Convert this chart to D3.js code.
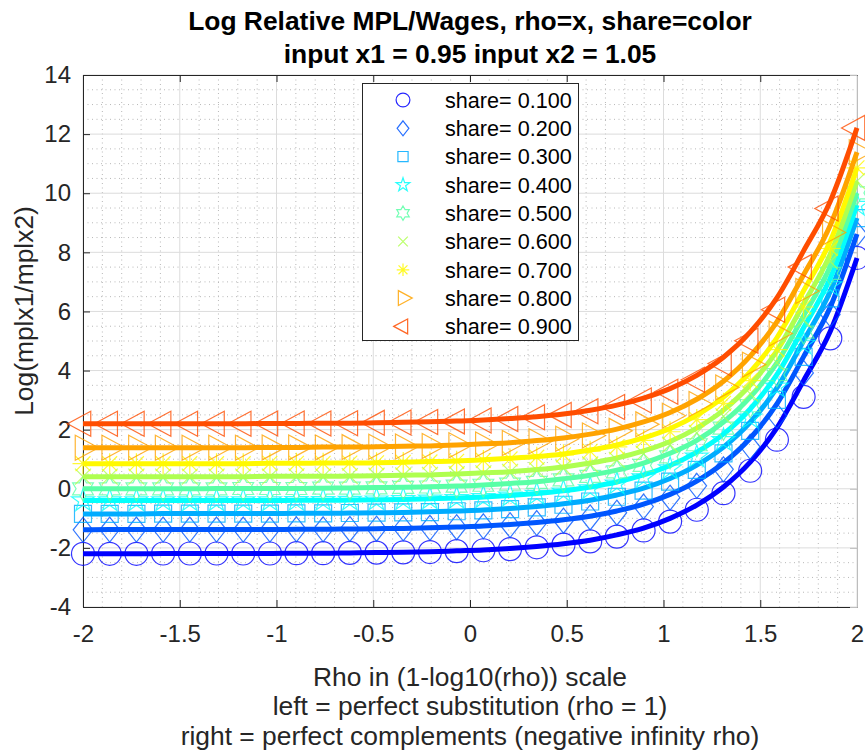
<!DOCTYPE html>
<html><head><meta charset="utf-8">
<script src="https://cdn.jsdelivr.net/npm/d3@7"></script>
<style>
body{margin:0;background:#fff}
svg{display:block}
text{font-family:"Liberation Sans",Arial,Helvetica,sans-serif}
</style>
</head><body>
<svg id="chart" width="865" height="751"></svg>
<script>
// ---------------- data ----------------
const xValues = [-2, -1.862, -1.724, -1.586, -1.448, -1.310, -1.172, -1.034, -0.897, -0.759,
  -0.621, -0.483, -0.345, -0.207, -0.069, 0.069, 0.207, 0.345, 0.483, 0.621,
  0.759, 0.897, 1.034, 1.172, 1.310, 1.448, 1.586, 1.724, 1.862, 2];

const shares = [0.1, 0.2, 0.3, 0.4, 0.5, 0.6, 0.7, 0.8, 0.9];
const shareLabels = ["share= 0.100","share= 0.200","share= 0.300","share= 0.400","share= 0.500",
  "share= 0.600","share= 0.700","share= 0.800","share= 0.900"];

// marker (point) values per share
const share010 = [-2.20,-2.20,-2.20,-2.19,-2.19,-2.19,-2.19,-2.19,-2.18,-2.18,-2.17,-2.16,-2.15,-2.14,-2.11,-2.08,-2.04,-1.98,-1.89,-1.78,-1.62,-1.41,-1.11,-0.71,-0.15,0.61,1.66,3.11,5.09,7.81];
const share020 = [-1.39,-1.38,-1.38,-1.38,-1.38,-1.38,-1.38,-1.38,-1.37,-1.37,-1.36,-1.35,-1.34,-1.32,-1.30,-1.27,-1.23,-1.16,-1.08,-0.97,-0.81,-0.60,-0.30,0.10,0.66,1.42,2.47,3.92,5.90,8.62];
const share030 = [-0.85,-0.85,-0.85,-0.84,-0.84,-0.84,-0.84,-0.84,-0.83,-0.83,-0.82,-0.81,-0.80,-0.79,-0.76,-0.73,-0.69,-0.63,-0.54,-0.43,-0.27,-0.06,0.24,0.64,1.20,1.96,3.01,4.46,6.44,9.16];
const share040 = [-0.40,-0.40,-0.40,-0.40,-0.40,-0.40,-0.40,-0.40,-0.39,-0.39,-0.38,-0.37,-0.36,-0.34,-0.32,-0.29,-0.24,-0.18,-0.10,0.01,0.17,0.38,0.68,1.08,1.64,2.40,3.45,4.90,6.88,9.60];
const share050 = [0.00,0.00,0.00,0.00,0.00,0.00,0.01,0.01,0.01,0.02,0.02,0.03,0.05,0.06,0.09,0.12,0.16,0.22,0.30,0.42,0.57,0.79,1.08,1.49,2.05,2.81,3.86,5.30,7.29,10.01];
const share060 = [0.41,0.41,0.41,0.41,0.41,0.41,0.41,0.41,0.42,0.42,0.43,0.44,0.45,0.47,0.49,0.52,0.57,0.63,0.71,0.82,0.98,1.19,1.49,1.89,2.45,3.22,4.27,5.71,7.69,10.41];
const share070 = [0.85,0.85,0.85,0.85,0.85,0.85,0.85,0.86,0.86,0.86,0.87,0.88,0.89,0.91,0.93,0.96,1.01,1.07,1.15,1.27,1.42,1.64,1.93,2.34,2.89,3.66,4.71,6.15,8.13,10.86];
const share080 = [1.39,1.39,1.39,1.39,1.39,1.39,1.39,1.40,1.40,1.40,1.41,1.42,1.43,1.45,1.47,1.50,1.55,1.61,1.69,1.80,1.96,2.18,2.47,2.87,3.43,4.20,5.25,6.69,8.67,11.39];
const share090 = [2.20,2.20,2.20,2.20,2.20,2.20,2.20,2.21,2.21,2.21,2.22,2.23,2.24,2.26,2.28,2.31,2.36,2.42,2.50,2.62,2.77,2.99,3.28,3.69,4.24,5.01,6.06,7.50,9.48,12.21];

// line values per share (the drawn curves sit slightly above/left of the markers on the steep part)
const line010 = [-2.20,-2.20,-2.20,-2.19,-2.19,-2.19,-2.19,-2.19,-2.18,-2.18,-2.17,-2.16,-2.15,-2.13,-2.10,-2.07,-2.02,-1.95,-1.86,-1.74,-1.56,-1.33,-1.00,-0.55,0.06,0.90,2.06,3.66,5.33,7.81];
const line020 = [-1.39,-1.38,-1.38,-1.38,-1.38,-1.38,-1.38,-1.38,-1.37,-1.37,-1.36,-1.35,-1.34,-1.32,-1.29,-1.26,-1.21,-1.14,-1.05,-0.93,-0.75,-0.52,-0.19,0.26,0.87,1.71,2.87,4.47,6.15,8.62];
const line030 = [-0.85,-0.85,-0.85,-0.84,-0.84,-0.84,-0.84,-0.84,-0.83,-0.83,-0.82,-0.81,-0.80,-0.78,-0.75,-0.72,-0.67,-0.60,-0.51,-0.39,-0.21,0.02,0.35,0.80,1.41,2.25,3.41,5.01,6.68,9.16];
const line040 = [-0.40,-0.40,-0.40,-0.40,-0.40,-0.40,-0.40,-0.40,-0.39,-0.39,-0.38,-0.37,-0.36,-0.34,-0.31,-0.28,-0.23,-0.16,-0.07,0.06,0.23,0.47,0.79,1.24,1.85,2.70,3.86,5.45,7.13,9.60];
const line050 = [0.00,0.00,0.00,0.00,0.00,0.01,0.01,0.01,0.01,0.02,0.03,0.04,0.05,0.07,0.09,0.13,0.18,0.24,0.34,0.46,0.63,0.87,1.20,1.64,2.26,3.10,4.26,5.85,7.53,10.01];
const line060 = [0.41,0.41,0.41,0.41,0.41,0.41,0.41,0.42,0.42,0.42,0.43,0.44,0.46,0.47,0.50,0.54,0.58,0.65,0.74,0.87,1.04,1.28,1.60,2.05,2.66,3.51,4.67,6.26,7.94,10.41];
const line070 = [0.85,0.85,0.85,0.85,0.85,0.85,0.85,0.86,0.86,0.87,0.87,0.88,0.90,0.92,0.94,0.98,1.03,1.09,1.18,1.31,1.48,1.72,2.04,2.49,3.10,3.95,5.11,6.70,8.38,10.86];
const line080 = [1.39,1.39,1.39,1.39,1.39,1.39,1.39,1.40,1.40,1.41,1.41,1.42,1.44,1.45,1.48,1.52,1.56,1.63,1.72,1.85,2.02,2.26,2.58,3.03,3.64,4.49,5.65,7.24,8.92,11.39];
const line090 = [2.20,2.20,2.20,2.20,2.20,2.20,2.20,2.21,2.21,2.22,2.22,2.23,2.25,2.27,2.29,2.33,2.38,2.44,2.53,2.66,2.83,3.07,3.39,3.84,4.45,5.30,6.46,8.05,9.73,12.21];

const seriesValues = [share010, share020, share030, share040, share050, share060, share070, share080, share090];
const lineValues = [line010, line020, line030, line040, line050, line060, line070, line080, line090];

const xTicks = [-2, -1.5, -1, -0.5, 0, 0.5, 1, 1.5, 2];
const xTickLabels = ["-2","-1.5","-1","-0.5","0","0.5","1","1.5","2"];
const yTicks = [-4, -2, 0, 2, 4, 6, 8, 10, 12, 14];
const yTickLabels = ["-4","-2","0","2","4","6","8","10","12","14"];

// ---------------- styles ----------------
const colors = ["#0000ff","#0056ff","#00acff","#03fffc","#59ffa6","#afff50","#fff900","#ffa300","#ff4d00"];
const markers = ["circle","diamond","square","pentagram","hexagram","x","asterisk","right","left"];

const L = 83, R = 857, T = 75, B = 607;
const svg = d3.select("#chart");

const x = d3.scaleLinear().domain([-2, 2]).range([L, R]);
const y = d3.scaleLinear().domain([-4, 14]).range([B, T]);

// grid: minor dotted
const gGrid = svg.append("g");
const xMinor = d3.range(-20, 21).map(d => d / 10).filter(d => Math.abs(d * 2 - Math.round(d * 2)) > 1e-6);
const yMinor = d3.range(-8, 29).map(d => d / 2).filter(d => Math.abs(d / 2 - Math.round(d / 2)) > 1e-6);
gGrid.selectAll(".xm").data(xMinor).join("line")
  .attr("x1", d => x(d)).attr("x2", d => x(d)).attr("y1", T).attr("y2", B)
  .attr("stroke", "#b8b8b8").attr("stroke-width", 1).attr("stroke-dasharray", "1 3.5");
gGrid.selectAll(".ym").data(yMinor).join("line")
  .attr("x1", L).attr("x2", R).attr("y1", d => y(d)).attr("y2", d => y(d))
  .attr("stroke", "#b8b8b8").attr("stroke-width", 1).attr("stroke-dasharray", "1 3.5");
// major grid
gGrid.selectAll(".xg").data(xTicks).join("line")
  .attr("x1", d => x(d)).attr("x2", d => x(d)).attr("y1", T).attr("y2", B)
  .attr("stroke", "#dcdcdc").attr("stroke-width", 1);
gGrid.selectAll(".yg").data(yTicks).join("line")
  .attr("x1", L).attr("x2", R).attr("y1", d => y(d)).attr("y2", d => y(d))
  .attr("stroke", "#dcdcdc").attr("stroke-width", 1);

// axes
const axisColor = "#262626";
const xAxis = svg.append("g").attr("transform", `translate(0,${B})`)
  .call(d3.axisBottom(x).tickValues(xTicks).tickFormat((d, i) => xTickLabels[i]).tickSizeInner(-7).tickSizeOuter(0).tickPadding(18));
const yAxis = svg.append("g").attr("transform", `translate(${L},0)`)
  .call(d3.axisLeft(y).tickValues(yTicks).tickFormat((d, i) => yTickLabels[i]).tickSizeInner(-7).tickSizeOuter(0).tickPadding(12));
const xTop = svg.append("g").attr("transform", `translate(0,${T})`)
  .call(d3.axisTop(x).tickValues(xTicks).tickFormat("").tickSizeInner(-7).tickSizeOuter(0));
const yRight = svg.append("g").attr("transform", `translate(${R},0)`)
  .call(d3.axisRight(y).tickValues(yTicks).tickFormat("").tickSizeInner(-7).tickSizeOuter(0));
[xAxis, yAxis, xTop].forEach(g => {
  g.selectAll("path,line").attr("stroke", axisColor).attr("stroke-width", 1);
  g.selectAll("text").attr("fill", axisColor).style("font-size", "24px").style("font-family", '"Liberation Sans",Arial,sans-serif');
});
yRight.selectAll("path,line").attr("stroke", "#bdbdbd").attr("stroke-width", 1);
xAxis.selectAll("text").attr("dy", "0.72em");

// marker shapes
function markerPath(type, s) {
  const p = d3.path();
  if (type === "circle") {
    p.moveTo(11.5 * s, 0); p.arc(0, 0, 11.5 * s, 0, 2 * Math.PI);
  } else if (type === "diamond") {
    const hh = 12.5 * s, hw = 9.8 * s;
    p.moveTo(0, -hh); p.lineTo(hw, 0); p.lineTo(0, hh); p.lineTo(-hw, 0); p.closePath();
  } else if (type === "square") {
    const h = 8.5 * s;
    p.rect(-h, -h, 2 * h, 2 * h);
  } else if (type === "pentagram") {
    const ro = 12 * s, ri = ro * 0.382;
    for (let k = 0; k < 10; k++) {
      const r = k % 2 ? ri : ro, a = -Math.PI / 2 + k * Math.PI / 5;
      k ? p.lineTo(r * Math.cos(a), r * Math.sin(a)) : p.moveTo(r * Math.cos(a), r * Math.sin(a));
    }
    p.closePath();
  } else if (type === "hexagram") {
    const ro = 12 * s, ri = ro / Math.sqrt(3);
    for (let k = 0; k < 12; k++) {
      const r = k % 2 ? ri : ro, a = -Math.PI / 2 + k * Math.PI / 6;
      k ? p.lineTo(r * Math.cos(a), r * Math.sin(a)) : p.moveTo(r * Math.cos(a), r * Math.sin(a));
    }
    p.closePath();
  } else if (type === "x") {
    const h = 8 * s;
    p.moveTo(-h, -h); p.lineTo(h, h); p.moveTo(-h, h); p.lineTo(h, -h);
  } else if (type === "asterisk") {
    const r = 10.5 * s, d = r * Math.SQRT1_2;
    p.moveTo(-r, 0); p.lineTo(r, 0); p.moveTo(0, -r); p.lineTo(0, r);
    p.moveTo(-d, -d); p.lineTo(d, d); p.moveTo(-d, d); p.lineTo(d, -d);
  } else if (type === "right") {
    const a = 15.5 * s, b = 7.75 * s, h = 12.5 * s;
    p.moveTo(a, 0); p.lineTo(-b, -h); p.lineTo(-b, h); p.closePath();
  } else if (type === "left") {
    const a = 15.5 * s, b = 7.75 * s, h = 12.5 * s;
    p.moveTo(-a, 0); p.lineTo(b, -h); p.lineTo(b, h); p.closePath();
  }
  return p.toString();
}

// series
const line = d3.line().x(d => x(d[0])).y(d => y(d[1])).curve(d3.curveMonotoneX);
const gSeries = svg.append("g");
seriesValues.forEach((vals, i) => {
  const pts = xValues.map((xv, j) => [xv, vals[j]]);
  const lpts = xValues.map((xv, j) => [xv, lineValues[i][j]]);
  const g = gSeries.append("g");
  g.selectAll("path.m").data(pts).join("path").attr("class", "m")
    .attr("transform", d => `translate(${x(d[0])},${y(d[1])})`)
    .attr("d", markerPath(markers[i], 1))
    .attr("fill", "none").attr("stroke", colors[i]).attr("stroke-width", 1.2).attr("stroke-opacity", 0.8);
  g.append("path").datum(lpts).attr("d", line)
    .attr("fill", "none").attr("stroke", colors[i]).attr("stroke-width", 5)
    .attr("stroke-linejoin", "round");
});

// legend
const lg = svg.append("g");
lg.append("rect").attr("x", 362.5).attr("y", 83.5).attr("width", 216).attr("height", 257)
  .attr("fill", "#fff").attr("stroke", axisColor).attr("stroke-width", 1);
shares.forEach((s, i) => {
  const cy = 100 + i * 28.3;
  lg.append("path").attr("transform", `translate(403,${cy})`).attr("d", markerPath(markers[i], 0.6))
    .attr("fill", "none").attr("stroke", colors[i]).attr("stroke-width", 1.2).attr("stroke-opacity", 0.85);
  lg.append("text").attr("x", 445).attr("y", cy + 7.7).text(shareLabels[i])
    .style("font-size", "21.6px").attr("fill", "#000");
});

// titles & labels
svg.append("text").attr("x", 470).attr("y", 30).attr("text-anchor", "middle")
  .style("font-size", "26.4px").style("font-weight", "bold").attr("fill", "#000")
  .text("Log Relative MPL/Wages, rho=x, share=color");
svg.append("text").attr("x", 470).attr("y", 63).attr("text-anchor", "middle")
  .style("font-size", "26.4px").style("font-weight", "bold").attr("fill", "#000")
  .text("input x1 = 0.95 input x2 = 1.05");

const xl = ["Rho in (1-log10(rho)) scale", "left = perfect substitution (rho = 1)", "right = perfect complements (negative infinity rho)"];
const xlY = [685.5, 715.2, 745];
xl.forEach((t, i) => svg.append("text").attr("x", 470).attr("y", xlY[i]).attr("text-anchor", "middle")
  .style("font-size", "26.4px").attr("fill", axisColor).text(t));

svg.append("text").attr("transform", "translate(33,311) rotate(-90)").attr("text-anchor", "middle")
  .style("font-size", "26.4px").attr("fill", axisColor).text("Log(mplx1/mplx2)");
</script>
</body></html>
